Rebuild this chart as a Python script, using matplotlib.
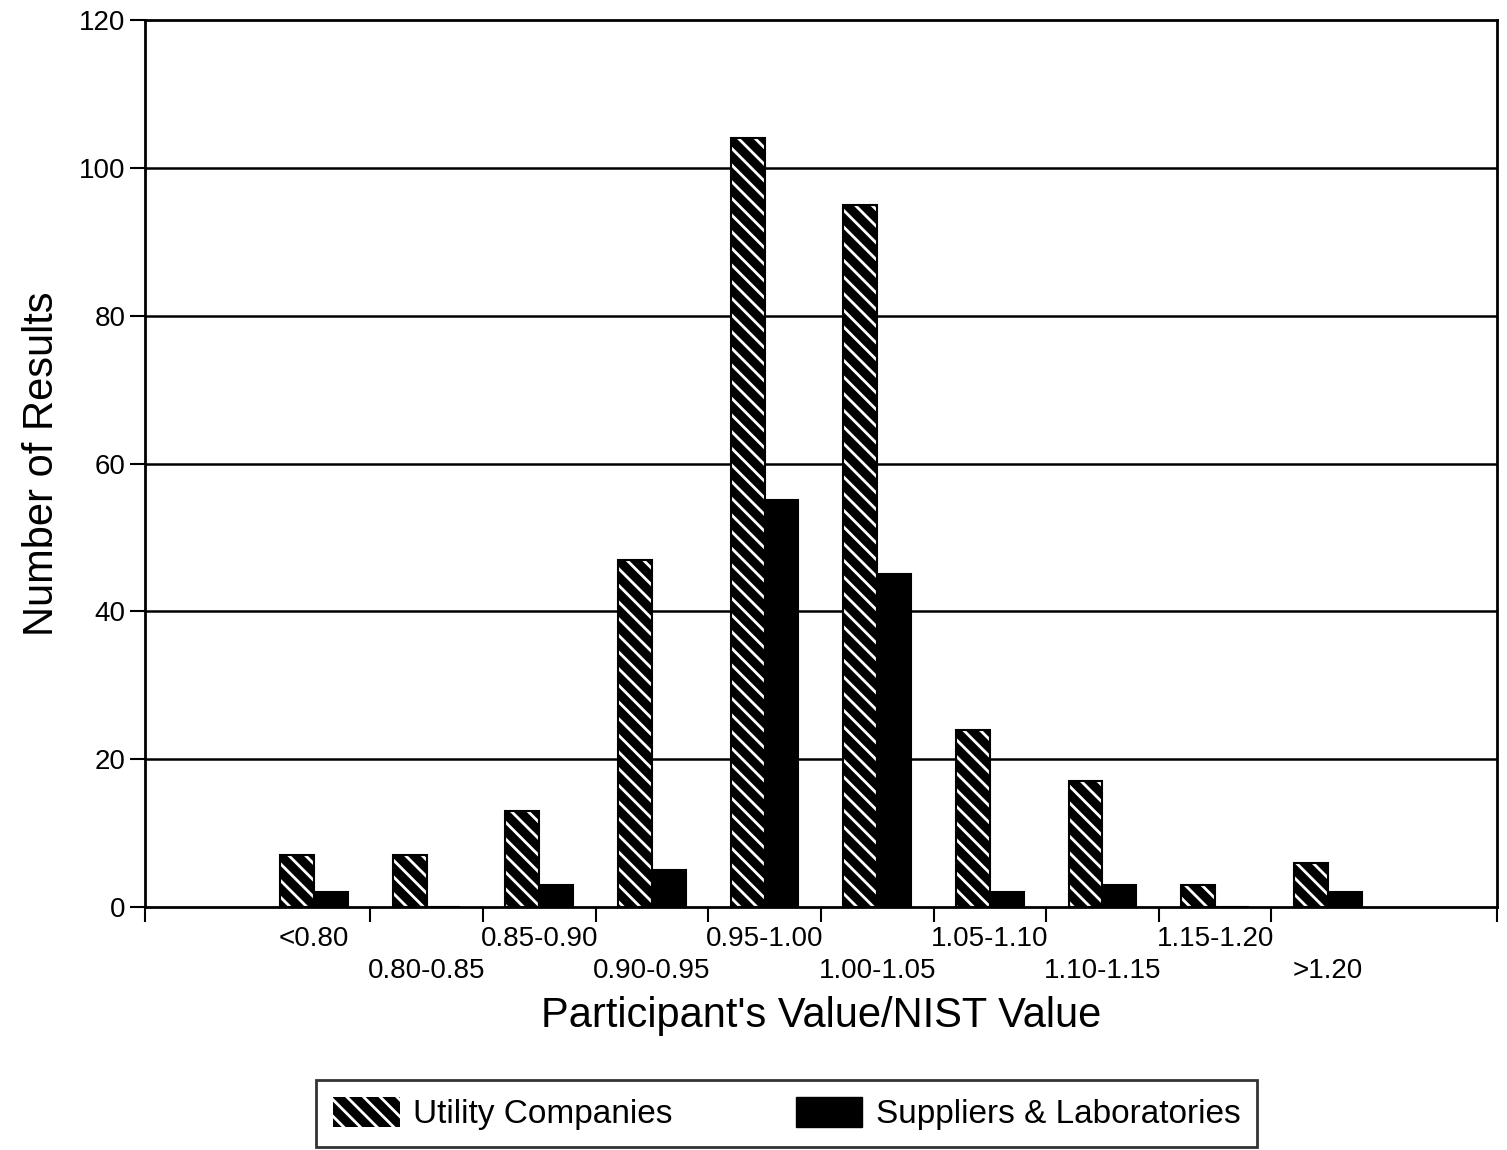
import numpy as np
import matplotlib.pyplot as plt
from matplotlib.patches import Patch

plt.rcParams['font.family'] = ['Liberation Sans', 'DejaVu Sans']
plt.rcParams['hatch.linewidth'] = 2.0

# data
categories = ['<0.80', '0.80-0.85', '0.85-0.90', '0.90-0.95', '0.95-1.00',
              '1.00-1.05', '1.05-1.10', '1.10-1.15', '1.15-1.20', '>1.20']
utility = [7, 7, 13, 47, 104, 95, 24, 17, 3, 6]
suppliers = [2, 0, 3, 5, 55, 45, 2, 3, 0, 2]

fig = plt.figure(figsize=(15.07, 11.5), dpi=100)
ax = fig.add_axes([0.0962, 0.2113, 0.8970, 0.7713])

x = np.arange(len(categories)) + 1.5
w = 0.3

# utility bars: black with white diagonal stripes, black outline
ax.bar(x - w / 2, utility, w, color='black', edgecolor='white',
       hatch='\\\\', linewidth=0, zorder=3)
ax.bar(x - w / 2, utility, w, fill=False, edgecolor='black',
       linewidth=1.5, zorder=4)
ax.bar(x + w / 2, suppliers, w, color='black', edgecolor='black',
       linewidth=1.5, zorder=3)

ax.set_xlim(0, len(categories) + 2)
ax.set_ylim(0, 120)
ax.set_yticks(range(0, 121, 20))
for y in range(20, 101, 20):
    ax.axhline(y, color='black', linewidth=1.8, zorder=1)

# labels at group centres, staggered; tick marks at group boundaries
labels = [c if i % 2 == 0 else '\n' + c for i, c in enumerate(categories)]
ax.set_xticks(x, labels, linespacing=1.3)
ax.tick_params(axis='x', which='major', length=0, pad=14, labelsize=20)
ax.set_xticks([0] + list(range(2, 11)) + [12], minor=True)
ax.tick_params(axis='x', which='minor', length=11, width=1.5,
               direction='out', color='black')
ax.tick_params(axis='y', length=11, width=1.5, labelsize=20, pad=3)

for s in ax.spines.values():
    s.set_linewidth(2)
    s.set_color('black')

ax.set_xlabel("Participant's Value/NIST Value", fontsize=30, labelpad=8)
ax.set_ylabel('Number of Results', fontsize=30, labelpad=12)

handles = [Patch(facecolor='black', edgecolor='white', hatch='\\\\',
                 linewidth=0, label='Utility Companies'),
           Patch(facecolor='black', edgecolor='black',
                 label='Suppliers & Laboratories')]
leg = fig.legend(handles=handles, loc='upper center', ncol=2,
                 bbox_to_anchor=(0.522, 0.061), fontsize=24,
                 frameon=True, fancybox=False, edgecolor='black',
                 handlelength=2.0, handleheight=1.05, handletextpad=0.4,
                 columnspacing=3.7, borderpad=0.5, borderaxespad=0)
leg.get_frame().set_linewidth(2)

fig.savefig('out.png', dpi=100)
